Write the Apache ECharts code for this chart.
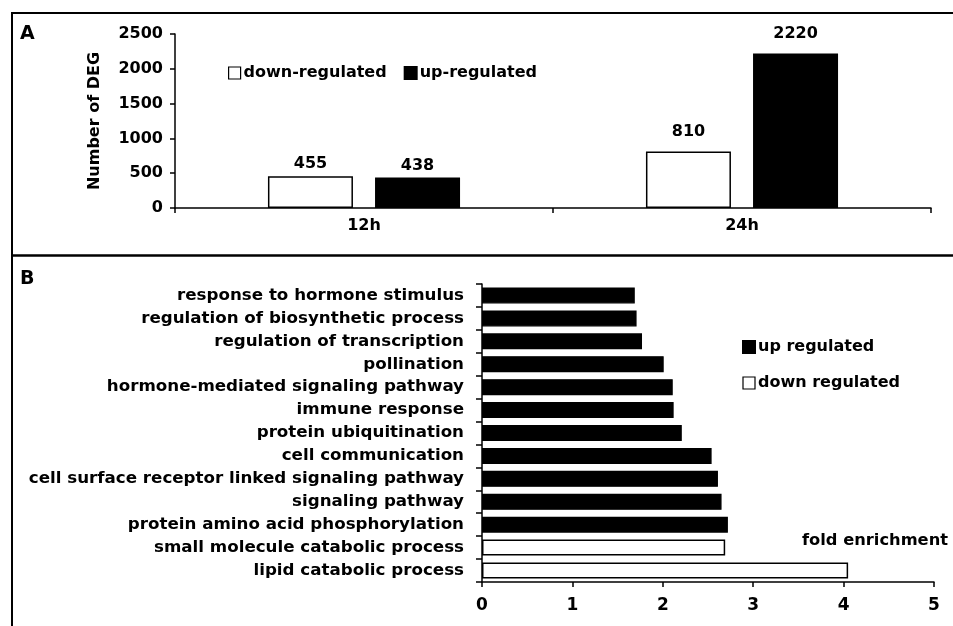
<!DOCTYPE html>
<html>
<head>
<meta charset="utf-8">
<script src="https://cdn.jsdelivr.net/npm/echarts@6/dist/echarts.min.js"></script>
<style>
html,body{margin:0;padding:0;background:#fff;}
#chart{width:953px;height:626px;}
</style>
</head>
<body>
<div id="chart"></div>
<script>
// Panel A data
const timeCategories = ['12h', '24h'];
const downRegulatedA = [455, 810];
const upRegulatedA = [438, 2220];
const yTicksA = [0, 500, 1000, 1500, 2000, 2500];

// Panel B data
const goTerms = [
  'response to hormone stimulus',
  'regulation of biosynthetic process',
  'regulation of transcription',
  'pollination',
  'hormone-mediated signaling pathway',
  'immune response',
  'protein ubiquitination',
  'cell communication',
  'cell surface receptor linked signaling pathway',
  'signaling pathway',
  'protein amino acid phosphorylation',
  'small molecule catabolic process',
  'lipid catabolic process'
];
const upRegulatedB = [1.69, 1.71, 1.77, 2.01, 2.11, 2.12, 2.21, 2.54, 2.61, 2.65, 2.72, '-', '-'];
const downRegulatedB = ['-', '-', '-', '-', '-', '-', '-', '-', '-', '-', '-', 2.69, 4.05];
const xTicksB = [0, 1, 2, 3, 4, 5];

// label spacing per category (style only, panel A)
const labelDistanceA = [4, 12];

const FONT = 'DejaVu Sans';
const txt = {fontFamily: FONT, fontWeight: 'bold', fontSize: 16, color: '#000'};
const txtB = {fontFamily: FONT, fontWeight: 'bold', fontSize: 16.7, color: '#000'};
const txt17 = {fontFamily: FONT, fontWeight: 'bold', fontSize: 17, color: '#000'};

function withLabels(values) {
  return values.map((v, i) => ({value: v, label: {distance: labelDistanceA[i]}}));
}

const chart = echarts.init(document.getElementById('chart'), null, {renderer: 'canvas'});
chart.setOption({
  backgroundColor: '#fff',
  animation: false,
  textStyle: {fontFamily: FONT},
  legend: [
    {
      left: 223, top: 60,
      itemWidth: 12, itemHeight: 12, itemGap: 17,
      icon: 'rect',
      textStyle: Object.assign({}, txt, {padding: [0, 0, 0, -2]}),
      data: [
        {name: 'down-regulated', itemStyle: {color: '#fff', borderColor: '#000', borderWidth: 1.2}},
        {name: 'up-regulated', itemStyle: {color: '#000'}}
      ]
    },
    {
      left: 737, top: 334,
      orient: 'vertical',
      itemWidth: 12, itemHeight: 12, itemGap: 20,
      icon: 'rect',
      textStyle: Object.assign({}, txt, {padding: [0, 0, 0, -2]}),
      data: [
        {name: 'up regulated', itemStyle: {color: '#000'}},
        {name: 'down regulated', itemStyle: {color: '#fff', borderColor: '#000', borderWidth: 1.2}}
      ]
    }
  ],
  grid: [
    {left: 175, right: 22, top: 34, bottom: 418},
    {left: 482, right: 19, top: 284, bottom: 44}
  ],
  xAxis: [
    {
      type: 'category', gridIndex: 0, data: timeCategories,
      axisLine: {lineStyle: {color: '#000', width: 1.5}},
      axisTick: {show: true, length: 5, lineStyle: {color: '#000', width: 1.5}},
      axisLabel: Object.assign({}, txt, {margin: 10})
    },
    {
      type: 'value', gridIndex: 1, min: 0, max: 5, interval: 1,
      axisLine: {show: true, lineStyle: {color: '#000', width: 1.5}},
      axisTick: {show: true, length: 5, lineStyle: {color: '#000', width: 1.5}},
      splitLine: {show: false},
      axisLabel: Object.assign({}, txt17, {margin: 15, formatter: v => xTicksB.includes(v) ? String(v) : ''})
    }
  ],
  yAxis: [
    {
      type: 'value', gridIndex: 0, min: 0, max: 2500, interval: 500,
      name: 'Number of DEG', nameLocation: 'middle', nameGap: 72,
      nameTextStyle: txt,
      axisLine: {show: true, lineStyle: {color: '#000', width: 1.5}},
      axisTick: {show: true, length: 5, lineStyle: {color: '#000', width: 1.5}},
      splitLine: {show: false},
      axisLabel: Object.assign({}, txt, {margin: 12, formatter: v => yTicksA.includes(v) ? String(v) : ''})
    },
    {
      type: 'category', gridIndex: 1, data: goTerms, inverse: true,
      axisLine: {lineStyle: {color: '#000', width: 1.5}},
      axisTick: {show: true, length: 6, lineStyle: {color: '#000', width: 1.5}},
      axisLabel: Object.assign({}, txtB, {margin: 18})
    }
  ],
  series: [
    {
      name: 'down-regulated', type: 'bar', xAxisIndex: 0, yAxisIndex: 0,
      data: withLabels(downRegulatedA), barWidth: 85, barGap: '26%',
      itemStyle: {color: '#fff', borderColor: '#000', borderWidth: 1.5},
      label: Object.assign({show: true, position: 'top'}, txt)
    },
    {
      name: 'up-regulated', type: 'bar', xAxisIndex: 0, yAxisIndex: 0,
      data: withLabels(upRegulatedA), barWidth: 85, barGap: '26%',
      itemStyle: {color: '#000', borderColor: '#000', borderWidth: 1.5},
      label: Object.assign({show: true, position: 'top'}, txt)
    },
    {
      name: 'up regulated', type: 'bar', xAxisIndex: 1, yAxisIndex: 1,
      data: upRegulatedB, stack: 'go', barWidth: 16,
      itemStyle: {color: '#000', borderColor: '#000', borderWidth: 1.2}
    },
    {
      name: 'down regulated', type: 'bar', xAxisIndex: 1, yAxisIndex: 1,
      data: downRegulatedB, stack: 'go', barWidth: 16,
      itemStyle: {color: '#fff', borderColor: '#000', borderWidth: 1.5}
    }
  ],
  graphic: [
    {type: 'line', shape: {x1: 11, y1: 13, x2: 953, y2: 13}, style: {stroke: '#000', lineWidth: 2}},
    {type: 'line', shape: {x1: 11, y1: 255.5, x2: 953, y2: 255.5}, style: {stroke: '#000', lineWidth: 2.5}},
    {type: 'line', shape: {x1: 12, y1: 12, x2: 12, y2: 626}, style: {stroke: '#000', lineWidth: 2}},
    {type: 'text', left: 20, top: 25, style: {text: 'A', font: 'bold 19px "DejaVu Sans"', fill: '#000'}},
    {type: 'text', left: 20, top: 270, style: {text: 'B', font: 'bold 19px "DejaVu Sans"', fill: '#000'}},
    {type: 'text', left: 802, top: 533, style: {text: 'fold enrichment', font: 'bold 16.3px "DejaVu Sans"', fill: '#000'}}
  ]
});
</script>
</body>
</html>
